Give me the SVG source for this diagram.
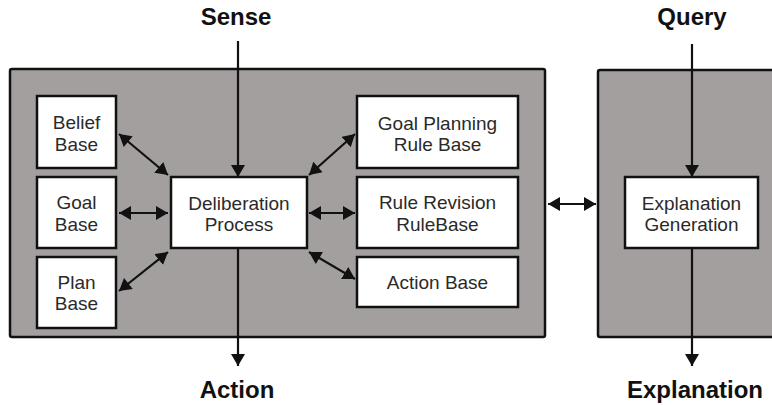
<svg xmlns="http://www.w3.org/2000/svg" width="772" height="405" viewBox="0 0 772 405">
<style>
.panel{fill:#a39f9f;stroke:#111;stroke-width:2.5}
.box{fill:#fff;stroke:#111;stroke-width:2.5}
.t{font-family:"Liberation Sans",Arial,sans-serif;font-size:19px;fill:#2a2a2a;text-anchor:middle}
.h{font-family:"Liberation Sans",Arial,sans-serif;font-size:24px;font-weight:bold;fill:#111;text-anchor:middle}
.c{stroke:#111;stroke-width:2.2;fill:none}
.a{marker-end:url(#ah)}
.d{marker-start:url(#ah2);marker-end:url(#ah)}
</style>
<defs>
<marker id="ah" markerUnits="userSpaceOnUse" markerWidth="14" markerHeight="14" refX="12" refY="7" orient="auto">
<path d="M0,0 L12,7 L0,14 z" fill="#111"/>
</marker>
<marker id="ah2" markerUnits="userSpaceOnUse" markerWidth="14" markerHeight="14" refX="0" refY="7" orient="auto">
<path d="M12,0 L0,7 L12,14 z" fill="#111"/>
</marker>
</defs>
<g id="panels">
<rect class="panel" x="10" y="69" width="535" height="268" rx="2"/>
<rect class="panel" x="598" y="70" width="190" height="267" rx="2"/>
</g>
<g id="labels">
<text class="h" x="236" y="25">Sense</text>
<text class="h" x="237" y="398">Action</text>
<text class="h" x="692" y="25">Query</text>
<text class="h" x="695" y="398">Explanation</text>
</g>
<g id="connectors">
<line class="c a" x1="238" y1="41" x2="238" y2="177"/>
<line class="c a" x1="238" y1="248" x2="238" y2="366"/>
<line class="c a" x1="692" y1="44" x2="692" y2="177"/>
<line class="c a" x1="692" y1="248" x2="692" y2="366"/>
<line class="c d" x1="119" y1="134" x2="168" y2="175"/>
<line class="c d" x1="119" y1="213" x2="168" y2="213"/>
<line class="c d" x1="119" y1="291" x2="168" y2="252"/>
<line class="c d" x1="309" y1="175" x2="355" y2="134"/>
<line class="c d" x1="309" y1="213" x2="355" y2="213"/>
<line class="c d" x1="309" y1="252" x2="355" y2="279"/>
<line class="c d" x1="548" y1="204" x2="596" y2="204"/>
</g>
<g id="belief"><rect class="box" x="37" y="96" width="79" height="72"/><text class="t" x="76.5" y="129">Belief</text><text class="t" x="76.5" y="151">Base</text></g>
<g id="goal"><rect class="box" x="37" y="177" width="79" height="71"/><text class="t" x="76.5" y="209">Goal</text><text class="t" x="76.5" y="231">Base</text></g>
<g id="plan"><rect class="box" x="37" y="257" width="79" height="71"/><text class="t" x="76.5" y="289">Plan</text><text class="t" x="76.5" y="310">Base</text></g>
<g id="deliberation"><rect class="box" x="171" y="177" width="136" height="71"/><text class="t" x="239" y="210">Deliberation</text><text class="t" x="239" y="231">Process</text></g>
<g id="goalplanning"><rect class="box" x="357" y="96" width="161" height="72"/><text class="t" x="437.5" y="130">Goal Planning</text><text class="t" x="437.5" y="151">Rule Base</text></g>
<g id="rulerevision"><rect class="box" x="357" y="177" width="161" height="71"/><text class="t" x="437.5" y="209">Rule Revision</text><text class="t" x="437.5" y="231">RuleBase</text></g>
<g id="actionbase"><rect class="box" x="357" y="257" width="161" height="50"/><text class="t" x="437.5" y="289">Action Base</text></g>
<g id="explgen"><rect class="box" x="625" y="177" width="133" height="71"/><text class="t" x="691.5" y="210">Explanation</text><text class="t" x="691.5" y="231">Generation</text></g>
</svg>
